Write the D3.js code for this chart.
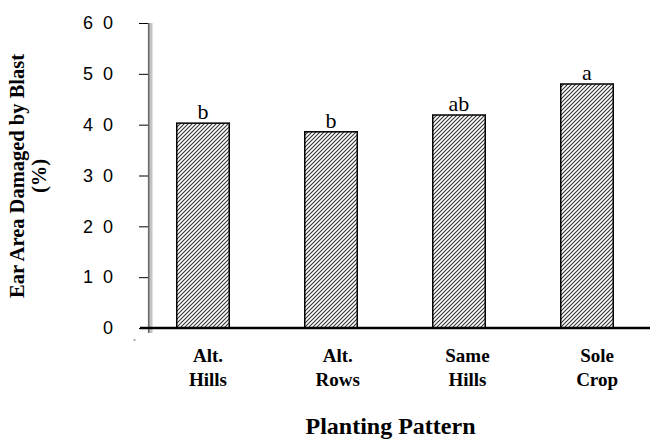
<!DOCTYPE html>
<html>
<head>
<meta charset="utf-8">
<script src="https://cdn.jsdelivr.net/npm/d3@7"></script>
<style>
  html, body { margin: 0; padding: 0; background: #fff; }
  svg { display: block; }
</style>
</head>
<body>
<svg id="chart" width="650" height="439"></svg>
<script>
// Planting pattern categories (two-line labels)
const categories = ["Alt. Hills", "Alt. Rows", "Same Hills", "Sole Crop"];
const categoryLines = [["Alt.", "Hills"], ["Alt.", "Rows"], ["Same", "Hills"], ["Sole", "Crop"]];
// Ear area damaged by blast (%)
const damage = [40.3, 38.6, 41.9, 48.0];
// Mean separation letters
const letters = ["b", "b", "ab", "a"];
// Y axis ticks
const yTicks = [0, 10, 20, 30, 40, 50, 60];

const svg = d3.select("#chart");
const serif = "'Liberation Serif', 'Times New Roman', serif";
const sans = "'Liberation Sans', Arial, sans-serif";

const plot = { left: 149, right: 651, top: 23, bottom: 328 };

const x = d3.scaleBand().domain(categories).range([139, 651]).padding(0);
const y = d3.scaleLinear().domain([0, 60]).range([plot.bottom, plot.top]);
const barW = x.bandwidth() * 0.41;

// diagonal hatch fill
const defs = svg.append("defs");
const pat = defs.append("pattern")
  .attr("id", "hatch")
  .attr("patternUnits", "userSpaceOnUse")
  .attr("width", 4).attr("height", 4);
pat.append("rect").attr("width", 4).attr("height", 4).attr("fill", "#fff");
pat.append("path")
  .attr("d", "M-1,1 l2,-2 M0,4 l4,-4 M3,5 l2,-2")
  .attr("stroke", "#333").attr("stroke-width", 1.1);

// bars
svg.append("g").selectAll("rect").data(categories).join("rect")
  .attr("x", (d) => x(d) + x.bandwidth() / 2 - barW / 2)
  .attr("y", (d, i) => y(damage[i]))
  .attr("width", barW)
  .attr("height", (d, i) => y(0) - y(damage[i]))
  .attr("fill", "url(#hatch)")
  .attr("stroke", "#000").attr("stroke-width", 1.5);

// letters above bars
svg.append("g").selectAll("text").data(categories).join("text")
  .attr("x", (d) => x(d) + x.bandwidth() / 2)
  .attr("y", (d, i) => y(damage[i]) - 4)
  .attr("text-anchor", "middle")
  .attr("font-family", serif).attr("font-size", 22)
  .attr("fill", "#000")
  .text((d, i) => letters[i]);

// y axis ticks and labels
const yAxis = d3.axisLeft(y)
  .tickValues(yTicks)
  .tickSize(10)
  .tickPadding(27)
  .tickFormat((d) => String(d).split("").join(" "));
const gy = svg.append("g").attr("transform", `translate(${plot.left},0)`).call(yAxis);
gy.select(".domain").remove();
gy.selectAll(".tick line").attr("stroke", "#000").attr("stroke-width", 1);
gy.selectAll(".tick text")
  .attr("font-family", sans).attr("font-size", 18)
  .attr("fill", "#000")
  .attr("dx", "0.2em")
  .style("letter-spacing", "2.5px");

// y axis spine: dark line with light grey edge
svg.append("line")
  .attr("x1", plot.left + 2.2).attr("x2", plot.left + 2.2)
  .attr("y1", y(60)).attr("y2", plot.bottom + 5)
  .attr("stroke", "#c4c4c4").attr("stroke-width", 2.6);
svg.append("line")
  .attr("x1", plot.left - 0.2).attr("x2", plot.left - 0.2)
  .attr("y1", y(60)).attr("y2", plot.bottom + 5)
  .attr("stroke", "#6a6a6a").attr("stroke-width", 1.8);

// x axis baseline
svg.append("line")
  .attr("x1", 140).attr("x2", 650)
  .attr("y1", y(0)).attr("y2", y(0))
  .attr("stroke", "#000").attr("stroke-width", 2.6);

// small stray tick below the origin
svg.append("line")
  .attr("x1", 133.5).attr("x2", 135.5)
  .attr("y1", 340).attr("y2", 340)
  .attr("stroke", "#777").attr("stroke-width", 1.2);

// x category labels
const xl = svg.append("g").selectAll("text").data(categories).join("text")
  .attr("text-anchor", "middle")
  .attr("font-family", serif).attr("font-weight", "bold").attr("font-size", 19)
  .attr("fill", "#000");
xl.each(function (d, i) {
  const t = d3.select(this);
  const cx = x(d) + x.bandwidth() / 2 + 5 + i * 1.7;
  categoryLines[i].forEach((line, k) => {
    t.append("tspan").attr("x", cx).attr("y", 362 + k * 24).text(line);
  });
});

// axis titles
svg.append("text")
  .attr("x", (plot.left + 500) / 2 + 66)
  .attr("y", 434)
  .attr("text-anchor", "middle")
  .attr("font-family", serif).attr("font-weight", "bold").attr("font-size", 24)
  .attr("fill", "#000")
  .text("Planting Pattern");

const yTitle = svg.append("text")
  .attr("transform", "translate(24,176) rotate(-90)")
  .attr("text-anchor", "middle")
  .attr("font-family", serif).attr("font-weight", "bold").attr("font-size", 20.5)
  .attr("fill", "#000");
yTitle.append("tspan").attr("x", 0).attr("y", 0).text("Ear Area Damaged by Blast");
yTitle.append("tspan").attr("x", 0).attr("y", 22).text("(%)");
</script>
</body>
</html>
